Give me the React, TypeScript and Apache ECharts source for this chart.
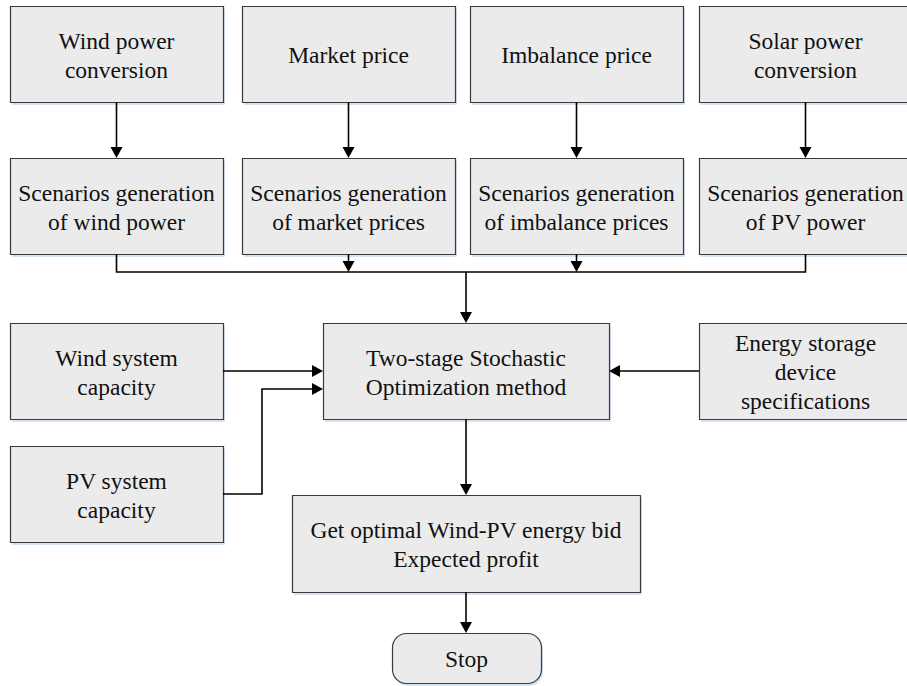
import React, { useEffect, useRef } from "react";
import * as echarts from "echarts";

const topLabels = ["Wind power\nconversion", "Market price", "Imbalance price", "Solar power\nconversion"];
const scenarioLabels = [
  "Scenarios generation\nof wind power",
  "Scenarios generation\nof market prices",
  "Scenarios generation\nof imbalance prices",
  "Scenarios generation\nof PV power",
];
const leftLabels = ["Wind system\ncapacity", "PV system\ncapacity"];
const mainLabel = "Two-stage Stochastic\nOptimization method";
const storageLabel = "Energy storage\ndevice\nspecifications";
const resultLabel = "Get optimal Wind-PV energy bid\nExpected profit";
const stopLabel = "Stop";

// layout (pixels)
const colX = [10, 242, 470, 699];
const colW = 213;
const boxH = 96;
const rowY = [6, 158];
const busY = 272;
const main = { x: 323, y: 323, w: 286, h: 96 };
const leftY = [323, 446];
const storage = { x: 699, y: 323, w: 213, h: 96 };
const result = { x: 292, y: 495, w: 348, h: 97 };
const stop = { x: 392, y: 633, w: 149, h: 50 };

const LINE = "#000";

function box(x: number, y: number, w: number, h: number, label: string, r = 0): any[] {
  return [
    {
      type: "rect",
      shape: { x: x + 2, y: y + 3, width: w, height: h, r },
      style: { fill: "#d6e4f2", stroke: null },
      z: 1,
    },
    {
      type: "rect",
      shape: { x: x + 0.5, y: y + 0.5, width: w, height: h, r },
      style: { fill: "#ebebeb", stroke: "#3a3a3a", lineWidth: 1.2 },
      z: 2,
    },
    {
      type: "text",
      x: x + w / 2,
      y: y + h / 2 + 1,
      style: {
        text: label,
        fontFamily: "Liberation Serif",
        fontSize: 23.5,
        fill: "#111",
        align: "center",
        verticalAlign: "middle",
        textAlign: "center",
        textVerticalAlign: "middle",
        lineHeight: 29,
      },
      z: 3,
    },
  ];
}

function line(points: number[][]): any {
  return {
    type: "polyline",
    shape: { points },
    style: { stroke: LINE, lineWidth: 1.6, fill: null },
    z: 4,
  };
}

function headDown(x: number, y: number): any {
  return {
    type: "polygon",
    shape: { points: [[x - 6, y - 11], [x + 6, y - 11], [x, y]] },
    style: { fill: LINE },
    z: 5,
  };
}
function headRight(x: number, y: number): any {
  return {
    type: "polygon",
    shape: { points: [[x - 11, y - 6], [x - 11, y + 6], [x, y]] },
    style: { fill: LINE },
    z: 5,
  };
}
function headLeft(x: number, y: number): any {
  return {
    type: "polygon",
    shape: { points: [[x + 11, y - 6], [x + 11, y + 6], [x, y]] },
    style: { fill: LINE },
    z: 5,
  };
}

export default function App() {
  const ref = useRef<HTMLDivElement>(null);
  useEffect(() => {
    document.body.style.margin = "0";
    const chart = echarts.init(ref.current!, null, { renderer: "svg" });
    const els: any[] = [];
    const cx = colX.map((x) => x + colW / 2);
    topLabels.forEach((l, i) => els.push(...box(colX[i], rowY[0], colW, boxH, l)));
    scenarioLabels.forEach((l, i) => els.push(...box(colX[i], rowY[1], colW, boxH, l)));
    cx.forEach((x) => {
      els.push(line([[x, rowY[0] + boxH], [x, rowY[1] - 10]]));
      els.push(headDown(x, rowY[1]));
    });
    els.push(line([[cx[0], rowY[1] + boxH], [cx[0], busY], [cx[3], busY], [cx[3], rowY[1] + boxH]]));
    els.push(line([[cx[1], rowY[1] + boxH], [cx[1], busY - 10]]));
    els.push(headDown(cx[1], busY));
    els.push(line([[cx[2], rowY[1] + boxH], [cx[2], busY - 10]]));
    els.push(headDown(cx[2], busY));
    const mcx = main.x + main.w / 2;
    els.push(line([[mcx, busY], [mcx, main.y - 10]]));
    els.push(headDown(mcx, main.y));
    els.push(...box(main.x, main.y, main.w, main.h, mainLabel));
    leftLabels.forEach((l, i) => els.push(...box(colX[0], leftY[i], colW, boxH, l)));
    const y1 = leftY[0] + boxH / 2;
    els.push(line([[colX[0] + colW, y1], [main.x - 10, y1]]));
    els.push(headRight(main.x, y1));
    const y2 = leftY[1] + boxH / 2;
    const y2in = 389;
    els.push(line([[colX[0] + colW, y2], [262, y2], [262, y2in], [main.x - 10, y2in]]));
    els.push(headRight(main.x, y2in));
    els.push(...box(storage.x, storage.y, storage.w, storage.h, storageLabel));
    const ys = storage.y + storage.h / 2;
    els.push(line([[storage.x, ys], [main.x + main.w + 10, ys]]));
    els.push(headLeft(main.x + main.w, ys));
    els.push(line([[mcx, main.y + main.h], [mcx, result.y - 10]]));
    els.push(headDown(mcx, result.y));
    els.push(...box(result.x, result.y, result.w, result.h, resultLabel));
    els.push(line([[mcx, result.y + result.h], [mcx, stop.y - 10]]));
    els.push(headDown(mcx, stop.y));
    els.push(...box(stop.x, stop.y, stop.w, stop.h, stopLabel, 14));

    chart.setOption({
      animation: false,
      backgroundColor: "#fff",
      graphic: { elements: els },
    });
    return () => chart.dispose();
  }, []);
  return (
    <div
      ref={ref}
      style={{ position: "fixed", left: 0, top: 0, width: 907, height: 686 }}
    />
  );
}
